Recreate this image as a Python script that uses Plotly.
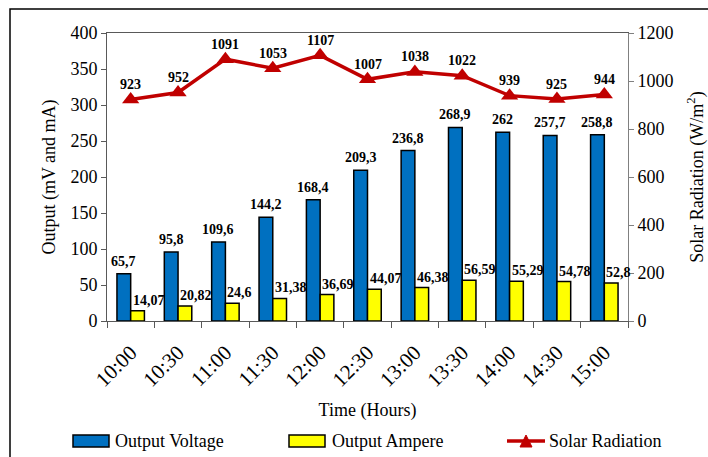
import plotly.graph_objects as go

# Measurements taken every half hour
times = ["10:00", "10:30", "11:00", "11:30", "12:00", "12:30",
         "13:00", "13:30", "14:00", "14:30", "15:00"]
voltage = [65.7, 95.8, 109.6, 144.2, 168.4, 209.3, 236.8, 268.9, 262, 257.7, 258.8]
ampere = [14.07, 20.82, 24.6, 31.38, 36.69, 44.07, 46.38, 56.59, 55.29, 54.78, 52.8]
radiation = [923, 952, 1091, 1053, 1107, 1007, 1038, 1022, 939, 925, 944]

series_names = ["Output Voltage", "Output Ampere", "Solar Radiation"]

FONT = "Liberation Serif"
BLUE = "#0070C0"
YELLOW = "#FFFF00"
RED = "#C00000"

W, H = 708, 457
ML, MR, MT, MB = 107, 80, 33, 136
PW, PH = W - ML - MR, H - MT - MB


def px(x):
    """Horizontal pixel -> paper coordinate."""
    return (x - ML) / PW


def py(y):
    """Vertical pixel -> paper coordinate."""
    return (H - MB - y) / PH


def fmt(v):
    # decimal comma labels
    return f"{v:g}".replace(".", ",")


label_font = dict(family=FONT, size=14, color="black", weight="bold")

fig = go.Figure()

fig.add_trace(go.Bar(
    x=times, y=voltage, name=series_names[0],
    marker=dict(color=BLUE, line=dict(color="black", width=1.5)),
))
fig.add_trace(go.Bar(
    x=times, y=ampere, name=series_names[1],
    marker=dict(color=YELLOW, line=dict(color="black", width=1.5)),
))
fig.add_trace(go.Scatter(
    x=times, y=radiation, name=series_names[2], yaxis="y2",
    mode="lines+markers",
    line=dict(color=RED, width=3.5),
    marker=dict(symbol="triangle-up", size=15, color=RED),
    cliponaxis=False,
))

annotations = []
# Voltage values centred over the blue bars
for t, v in zip(times, voltage):
    annotations.append(dict(
        x=t, y=v, xref="x", yref="y", text=fmt(v), showarrow=False,
        xanchor="center", yanchor="bottom", xshift=-7, yshift=3,
        font=label_font,
    ))
# Ampere values sit just right of the bar pair's centre line
for t, a in zip(times, ampere):
    annotations.append(dict(
        x=t, y=a, xref="x", yref="y", text=fmt(a), showarrow=False,
        xanchor="left", yanchor="bottom", xshift=0, yshift=1,
        font=label_font,
    ))
# Radiation values above the triangle markers
for t, r in zip(times, radiation):
    annotations.append(dict(
        x=t, y=r, xref="x", yref="y2", text=fmt(r), showarrow=False,
        xanchor="center", yanchor="middle", yshift=15,
        font=label_font,
    ))

# Legend row drawn underneath the axis title
legend_font = dict(family=FONT, size=18, color="black")
shapes = []
legend_items = [
    (73, 109, BLUE, 113, series_names[0]),
    (289, 325, YELLOW, 330, series_names[1]),
]
for x0, x1, col, tx, name in legend_items:
    shapes.append(dict(type="rect", xref="paper", yref="paper",
                       x0=px(x0), x1=px(x1), y0=py(447), y1=py(435),
                       fillcolor=col, line=dict(color="black", width=1.5)))
    annotations.append(dict(x=px(tx), y=py(441), xref="paper", yref="paper",
                            text=name, showarrow=False, xanchor="left",
                            yanchor="middle", font=legend_font))
shapes.append(dict(type="line", xref="paper", yref="paper",
                   x0=px(507), x1=px(545), y0=py(441), y1=py(441),
                   line=dict(color=RED, width=3.5)))
shapes.append(dict(type="path", xref="paper", yref="paper",
                   path=f"M {px(520)} {py(447)} L {px(532)} {py(447)} L {px(526)} {py(435)} Z",
                   fillcolor=RED, line=dict(color=RED, width=1)))
annotations.append(dict(x=px(547), y=py(441), xref="paper", yref="paper",
                        text=series_names[2], showarrow=False, xanchor="left",
                        yanchor="middle", font=legend_font))

# Outer frame
shapes.append(dict(type="rect", xref="paper", yref="paper",
                   x0=px(10), x1=px(730), y0=py(480), y1=py(9),
                   line=dict(color="black", width=1.5), fillcolor="rgba(0,0,0,0)"))

tick_font = dict(family=FONT, size=18, color="black")

fig.update_layout(
    width=W, height=H,
    margin=dict(l=ML, r=MR, t=MT, b=MB),
    paper_bgcolor="white", plot_bgcolor="white",
    showlegend=False,
    barmode="group", bargap=0.42, bargroupgap=0,
    font=dict(family=FONT, size=18, color="black"),
    xaxis=dict(
        type="category", range=[-0.5, len(times) - 0.5],
        tickson="boundaries", ticks="outside", ticklen=6,
        tickcolor="#595959", tickangle=-45,
        tickfont=dict(family=FONT, size=21, color="black"),
        ticklabelstandoff=10,
        showline=True, linecolor="#595959", linewidth=1, mirror=True,
        showgrid=False, zeroline=False, automargin=False,
        title=dict(text="Time (Hours)", font=tick_font, standoff=12),
    ),
    yaxis=dict(
        range=[0, 400], dtick=50, ticks="outside", ticklen=5, tickcolor="#595959",
        tickfont=tick_font, showline=True, linecolor="#595959", linewidth=1,
        showgrid=False, zeroline=False, automargin=False,
        title=dict(text="Output (mV and mA)", font=tick_font, standoff=10),
    ),
    yaxis2=dict(
        overlaying="y", side="right", range=[0, 1200], dtick=200,
        ticks="outside", ticklen=5, tickcolor="#808080", tickfont=tick_font,
        showline=True, linecolor="#808080", linewidth=1,
        showgrid=False, zeroline=False, automargin=False,
        title=dict(text="Solar Radiation (W/m<sup>2</sup>)", font=tick_font, standoff=17),
    ),
    annotations=annotations,
    shapes=shapes,
)

fig.write_html("out.html")
